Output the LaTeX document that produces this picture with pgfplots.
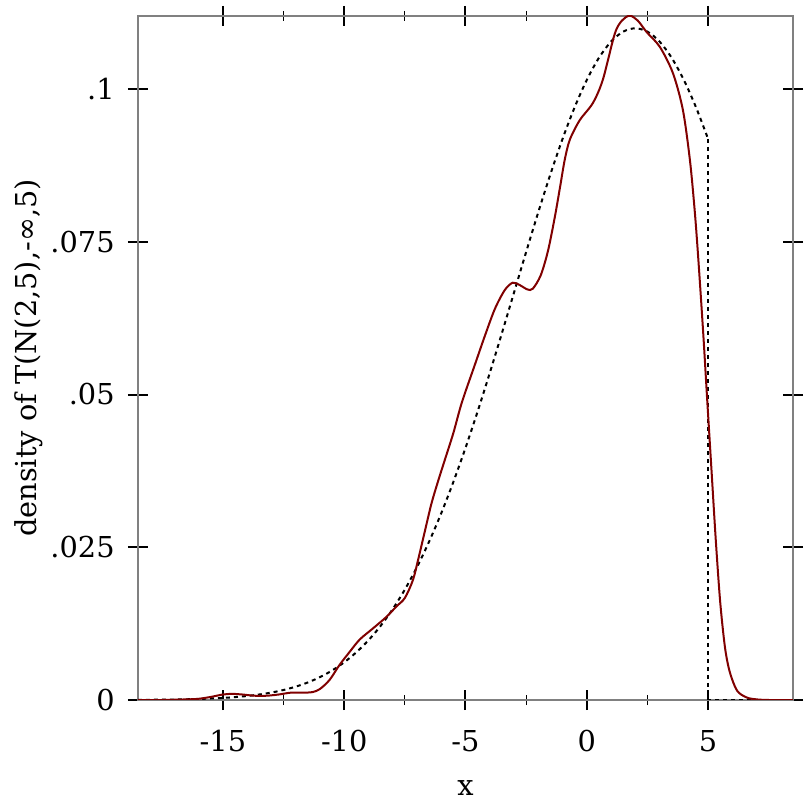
\documentclass[border=0pt]{standalone}
\usepackage{fontspec}
\setmainfont{DejaVu Serif}
\usepackage{pgfplots}
\pgfplotsset{compat=1.18}
\definecolor{kdered}{RGB}{128,0,0}

\begin{document}
\fontsize{14.4bp}{16bp}\selectfont
\begin{tikzpicture}
\begin{axis}[
    at={(0,0)}, anchor=south west,
    scale only axis,
    width=327.5bp, height=342bp,
    xmin=-18.5, xmax=8.5,
    ymin=0, ymax=0.11195,
    xtick={-15,-10,-5,0,5},
    xticklabels={-15,-10,-5,0,5},
    minor x tick num=1,
    ytick={0,0.025,0.05,0.075,0.1},
    yticklabels={0,.025,.05,.075,.1},
    /pgf/number format/assume math mode=true,
    tick align=center,
    major tick length=10bp,
    minor tick length=5bp,
    axis line style={draw=gray, line width=0.6bp},
    major tick style={black, line width=1bp},
    minor tick style={black, line width=0.5bp},
    xticklabel style={anchor=north, inner sep=0pt, yshift=-10bp},
    yticklabel style={anchor=east, inner sep=0pt, xshift=-6.5bp},
    xlabel={x},
    ylabel={density of T(N(2,5),-∞,5)},
    xlabel style={at={(axis description cs:0.5,-0.1389)}, anchor=base},
    ylabel style={at={(axis description cs:-0.1542,0.5)}, anchor=base},
    clip=true,
]
% truncated normal density (dashed)
\addplot[black, line width=1bp, dash pattern=on 2bp off 2bp, smooth] coordinates {
(-18.5,0.0000246) (-18,0.0000369) (-17,0.0000805) (-16,0.000169)
(-15,0.000340) (-14.5,0.000475) (-14,0.000657) (-13.5,0.000900)
(-13,0.001221) (-12.5,0.001640) (-12,0.002181) (-11.5,0.002872)
(-11,0.003743) (-10.5,0.004830) (-10,0.006171) (-9.5,0.007806)
(-9,0.009776) (-8.5,0.012121) (-8,0.014879) (-7.5,0.018082)
(-7,0.021757) (-6.5,0.025918) (-6,0.030567) (-5.5,0.035692)
(-5,0.041262) (-4.5,0.047226) (-4,0.053514) (-3.5,0.060035)
(-3,0.066682) (-2.5,0.073327) (-2,0.079833) (-1.5,0.086051)
(-1,0.091830) (-0.5,0.097022) (0,0.101487) (0.5,0.105102)
(1,0.107763) (1.5,0.109392) (2,0.109940) (2.5,0.109392)
(3,0.107763) (3.5,0.105102) (4,0.101487) (4.5,0.097022)
(5,0.091830)
};
\addplot[black, line width=1bp, dash pattern=on 2bp off 2bp] coordinates {
(5,0.091830) (5,0) (8.5,0)
};
% kernel density estimate (red)
\addplot[kdered, line width=1bp, smooth] coordinates {
(-18.5,0) (-17.5,0) (-16.5,0.0001) (-16.0,0.0002) (-15.5,0.0005)
(-15.0,0.0009) (-14.6,0.0010) (-14.2,0.0009) (-13.7,0.0007)
(-13.2,0.0007) (-12.7,0.0009) (-12.2,0.0012) (-11.7,0.0012)
(-11.3,0.0013) (-11.0,0.0018) (-10.6,0.0033) (-10.2,0.0057)
(-9.77,0.0079) (-9.36,0.0099) (-8.82,0.0117) (-8.26,0.0136)
(-7.85,0.0153) (-7.5,0.0167) (-7.17,0.0196) (-6.95,0.0230)
(-6.7,0.0272) (-6.4,0.0322) (-6.1,0.0362) (-5.86,0.0392)
(-5.5,0.0437) (-5.15,0.0487) (-4.62,0.0548) (-4.21,0.0595)
(-3.79,0.0640) (-3.38,0.0671) (-3.05,0.0683) (-2.76,0.0679)
(-2.45,0.0672) (-2.23,0.0673) (-1.9,0.0695) (-1.6,0.0735)
(-1.32,0.0790) (-1.1,0.0840) (-0.91,0.0884) (-0.70,0.0917)
(-0.29,0.0949) (0.25,0.0977) (0.66,0.1015) (1.15,0.1090)
(1.45,0.1112) (1.77,0.1120) (2.1,0.1112) (2.47,0.1093)
(3.01,0.1069) (3.55,0.1026) (3.96,0.0966) (4.25,0.0884)
(4.45,0.0800) (4.6,0.0720) (4.8,0.0600) (4.95,0.0500)
(5.15,0.0370) (5.32,0.0260) (5.5,0.0160) (5.7,0.0085)
(5.9,0.0045) (6.2,0.0015) (6.6,0.0004) (7.0,0.0001)
(7.5,0) (8.5,0)
};
\end{axis}
\useasboundingbox (-69bp,-56bp) rectangle (337bp,350bp);
\end{tikzpicture}
\end{document}
